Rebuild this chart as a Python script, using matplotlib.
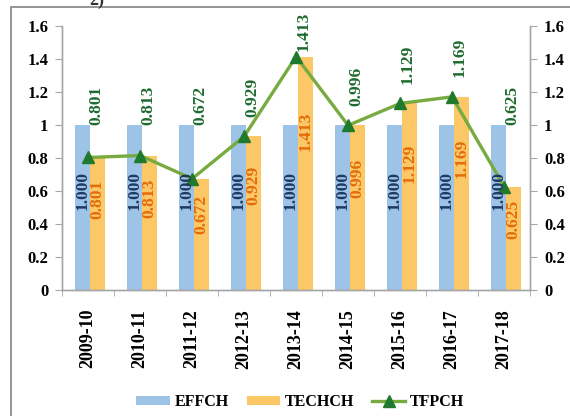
import matplotlib.pyplot as plt
import numpy as np
from matplotlib.patches import Rectangle

# data
years = ['2009-10', '2010-11', '2011-12', '2012-13', '2013-14',
         '2014-15', '2015-16', '2016-17', '2017-18']
effch = [1.000, 1.000, 1.000, 1.000, 1.000, 1.000, 1.000, 1.000, 1.000]
techch = [0.801, 0.813, 0.672, 0.929, 1.413, 0.996, 1.129, 1.169, 0.625]
tfpch = [0.801, 0.813, 0.672, 0.929, 1.413, 0.996, 1.129, 1.169, 0.625]
yticks = [0, 0.2, 0.4, 0.6, 0.8, 1.0, 1.2, 1.4, 1.6]
ytick_labels = ['0', '0.2', '0.4', '0.6', '0.8', '1', '1.2', '1.4', '1.6']

plt.rcParams['font.family'] = ['Liberation Serif', 'DejaVu Serif']
plt.rcParams['font.weight'] = 'bold'

blue = '#9dc3e6'
orange = '#fcc766'
line_green = '#77ab3f'
mark_green = '#1f7a2e'
grey = '#a6a6a6'

fig = plt.figure(figsize=(5.7, 4.16), dpi=100)
ax = fig.add_axes([0.109, 0.304, 0.821, 0.634])

x = np.arange(len(years))
w = 0.29
b1 = ax.bar(x - w / 2 + 0.04, effch, w, color=blue, label='EFFCH', zorder=2)
b2 = ax.bar(x + w / 2 + 0.04, techch, w, color=orange, label='TECHCH', zorder=2)
ln, = ax.plot(x, tfpch, color=line_green, lw=2.4, marker='^', ms=8,
              markerfacecolor=mark_green, markeredgecolor=mark_green,
              label='TFPCH', zorder=3)

# value labels inside the bars and above the line
for i in range(len(years)):
    ax.text(x[i] - w / 2 + 0.04, effch[i] * 0.6, '%.3f' % effch[i], rotation=90,
            ha='center', va='center', fontsize=12.5, color='#1f3864',
            fontweight='bold', zorder=4)
    ax.text(x[i] + w / 2 + 0.04, techch[i] * 0.68, '%.3f' % techch[i], rotation=90,
            ha='center', va='center', fontsize=12.5, color='#e46c0a',
            fontweight='bold', zorder=4)
    base = min(max(tfpch[i] + 0.12, 1.0), 1.45)
    ax.text(x[i] + 0.15, base, '%.3f' % tfpch[i], rotation=90,
            ha='center', va='bottom', fontsize=12.5, color='#1e6b30',
            fontweight='bold', zorder=4)

ax.set_xlim(-0.5, len(years) - 0.5)
ax.set_ylim(0, 1.6)
ax.set_yticks(yticks)
ax.set_yticklabels(ytick_labels, fontsize=12, fontweight='bold')
ax.set_xticks(x)
ax.set_xticklabels(years, rotation=90, fontsize=13, fontweight='bold')
ax.tick_params(axis='x', length=0, pad=14)
ax.set_xticks(np.arange(len(years) + 1) - 0.5, minor=True)
ax.tick_params(axis='x', which='minor', length=4, color=grey, direction='out')
ax.tick_params(axis='y', length=5, color=grey, pad=5)

ax2 = ax.twinx()
ax2.set_ylim(0, 1.6)
ax2.set_yticks(yticks)
ax2.set_yticklabels(ytick_labels, fontsize=12, fontweight='bold')
ax2.tick_params(axis='y', length=5, color=grey, pad=5)

for a in (ax, ax2):
    a.spines['top'].set_visible(False)
    for s in ('left', 'right', 'bottom'):
        a.spines[s].set_color(grey)
        a.spines[s].set_linewidth(1.0)

leg = fig.legend([b1, b2, ln], ['EFFCH', 'TECHCH', 'TFPCH'], loc='center',
                 bbox_to_anchor=(0.527, 0.033), ncol=3, frameon=False,
                 fontsize=11.5, handlelength=2.1, handleheight=0.55,
                 columnspacing=1.1, handletextpad=0.3)

# outer frame of the pasted figure
fig.patches.append(Rectangle((0.019, -0.05), 1.05, 1.033, transform=fig.transFigure,
                             fill=False, edgecolor='#8c8c8c', lw=1.3))
fig.text(0.17, 1.0, '2)', fontsize=13, ha='center', va='center', color='#333333')

fig.savefig('out.png', dpi=100)
